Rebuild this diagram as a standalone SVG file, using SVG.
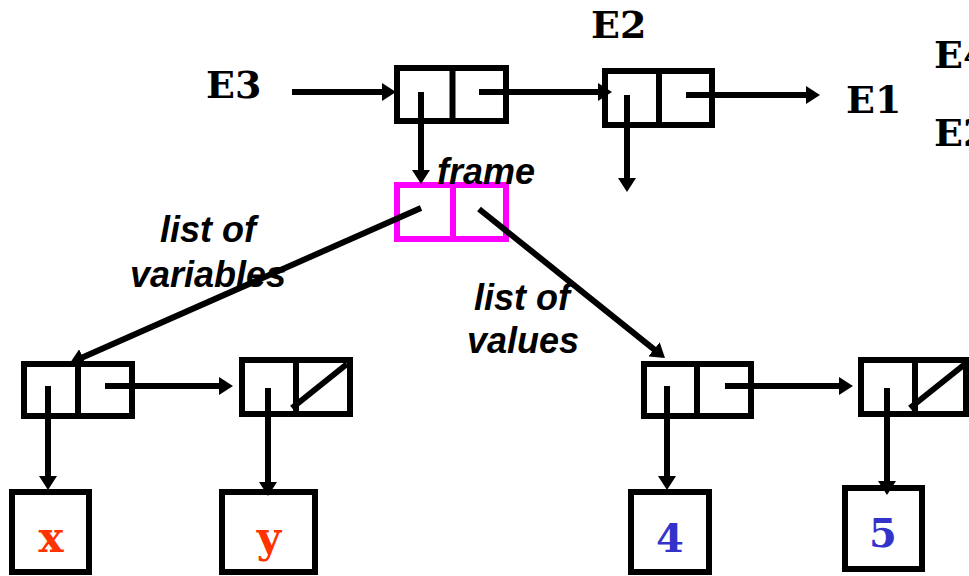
<svg xmlns="http://www.w3.org/2000/svg" width="969" height="576" viewBox="0 0 969 576">
<defs>
<marker id="ah" markerWidth="16" markerHeight="18" refX="8" refY="9" orient="auto" markerUnits="userSpaceOnUse">
<path d="M0,0 L14,9 L0,18 z" fill="#000"/>
</marker>
</defs>
<style>
.cell{fill:none;stroke:#000;stroke-width:6}
.frm{fill:none;stroke:#FF00FF;stroke-width:6}
.ln{stroke:#000;stroke-width:6;fill:none}
.arr{stroke:#000;stroke-width:6;fill:none;marker-end:url(#ah)}
.env{font-family:"DejaVu Serif","Liberation Mono",serif;font-weight:bold;font-size:38px;fill:#000}
.lbl{font-family:"Liberation Sans",Arial,sans-serif;font-weight:bold;font-style:italic;font-size:36px;fill:#000}
.sym{font-family:"DejaVu Serif","Liberation Mono",serif;font-weight:bold;font-size:42px;fill:#FF3300;text-anchor:middle}
.num{font-family:"DejaVu Serif","Liberation Mono",serif;font-weight:bold;font-size:40px;fill:#3333CC;text-anchor:middle}
</style>
<rect width="969" height="576" fill="#fff"/>

<g id="labels">
<text class="env" x="206" y="98">E3</text>
<text class="env" x="591" y="38">E2</text>
<text class="env" x="846" y="113">E1</text>
<text class="env" x="934" y="68">E4</text>
<text class="env" x="934" y="146">E2</text>
<text class="lbl" x="208" y="242" text-anchor="middle">list of</text>
<text class="lbl" x="208" y="287" text-anchor="middle">variables</text>
<text class="lbl" x="522" y="310" text-anchor="middle">list of</text>
<text class="lbl" x="523" y="353" text-anchor="middle">values</text>
</g>

<g id="cellE3">
<rect class="cell" x="397" y="68" width="109" height="53"/>
<line class="ln" x1="452.5" y1="68" x2="452.5" y2="121"/>
</g>
<g id="cellE2">
<rect class="cell" x="605" y="71" width="107" height="54"/>
<line class="ln" x1="659" y1="71" x2="659" y2="125"/>
</g>
<g id="frame">
<rect class="frm" x="397" y="185" width="109" height="54"/>
<line x1="453" y1="185" x2="453" y2="239" stroke="#FF00FF" stroke-width="6"/>
<text class="lbl" x="437" y="184">frame</text>
</g>
<g id="varPair1">
<rect class="cell" x="24" y="364" width="108" height="52"/>
<line class="ln" x1="78" y1="364" x2="78" y2="416"/>
</g>
<g id="varPair2">
<rect class="cell" x="242" y="360" width="108" height="54"/>
<line class="ln" x1="296" y1="360" x2="296" y2="414"/>
<line class="ln" x1="347" y1="364" x2="292" y2="408"/>
</g>
<g id="valPair1">
<rect class="cell" x="644" y="364" width="107" height="52"/>
<line class="ln" x1="697" y1="364" x2="697" y2="416"/>
</g>
<g id="valPair2">
<rect class="cell" x="861" y="360" width="105" height="54"/>
<line class="ln" x1="915" y1="360" x2="915" y2="414"/>
<line class="ln" x1="965" y1="364" x2="910" y2="408"/>
</g>
<g id="symX">
<rect class="cell" x="12" y="492" width="77" height="80"/>
<text class="sym" x="51" y="552">x</text>
</g>
<g id="symY">
<rect class="cell" x="222" y="492" width="93" height="80"/>
<text class="sym" x="269" y="552">y</text>
</g>
<g id="num4">
<rect class="cell" x="631" y="492" width="78" height="80"/>
<text class="num" x="670" y="552">4</text>
</g>
<g id="num5">
<rect class="cell" x="845" y="488" width="77" height="81"/>
<text class="num" x="883" y="547">5</text>
</g>

<g id="connectors">
<line class="arr" x1="292" y1="92" x2="390" y2="92"/>
<line class="arr" x1="479" y1="92" x2="606" y2="92"/>
<line class="arr" x1="421" y1="92" x2="421" y2="178"/>
<line class="arr" x1="627" y1="95" x2="627" y2="186"/>
<line class="arr" x1="686" y1="95" x2="814" y2="95"/>
<line class="arr" x1="421" y1="208" x2="75.5" y2="360.6"/>
<line class="arr" x1="479" y1="209" x2="660.3" y2="354.3"/>
<line class="arr" x1="48" y1="386" x2="48" y2="484"/>
<line class="arr" x1="105" y1="386" x2="227" y2="386"/>
<line class="arr" x1="268" y1="388" x2="268" y2="490"/>
<line class="arr" x1="667" y1="386" x2="667" y2="484"/>
<line class="arr" x1="725" y1="386" x2="847" y2="386"/>
<line class="arr" x1="887" y1="388" x2="887" y2="489"/>
</g>
</svg>
